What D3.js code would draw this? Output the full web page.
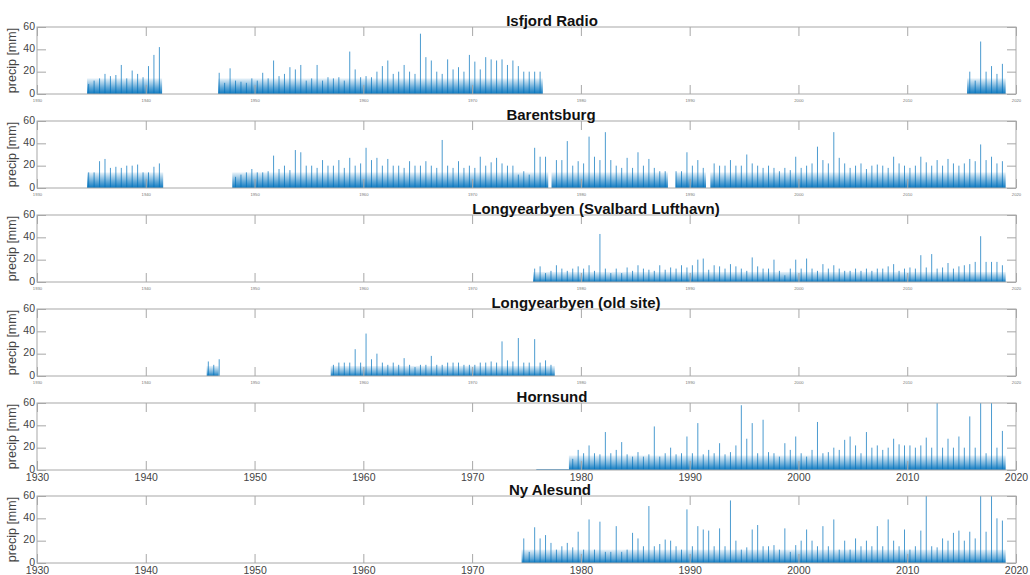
<!DOCTYPE html>
<html>
<head>
<meta charset="utf-8">
<script src="https://cdn.jsdelivr.net/npm/d3@7"></script>
<style>
  body { margin: 0; background: #fff; }
  svg { display: block; font-family: Arial, "Liberation Sans", sans-serif; }
</style>
</head>
<body>
<svg id="chart" width="1030" height="575"></svg>
<script>

const xTicks = [1930, 1940, 1950, 1960, 1970, 1980, 1990, 2000, 2010, 2020]
const yTicks = [0, 20, 40, 60]

const stations = ['Isfjord Radio', 'Barentsburg', 'Longyearbyen (Svalbard Lufthavn)',
                  'Longyearbyen (old site)', 'Hornsund', 'Ny Alesund']

// periods with a record, [from, to] in decimal years
const isfjordSpans = [[1934.6, 1941.5], [1946.65, 1976.5], [2015.5, 2019.05]]
const barentsburgSpans = [[1934.6, 1941.6], [1947.95, 1977.0], [1977.3, 1988.0], [1988.7, 1991.5], [1991.9, 2019.05]]
const longyearbyenSpans = [[1975.6, 2019.05]]
const oldSiteSpans = [[1945.6, 1946.7], [1957.0, 1977.6]]
const hornsundSpans = [[1978.9, 2019.05]]
const nyAlesundSpans = [[1974.55, 2019.05]]

// Hornsund shows a flat zero line before the record starts
const hornsundZero = [[1975.9, 1978.9]]

// half-year maximum daily precipitation [mm], [first half-year, values]
const isfjordPeaks = [
  [1934.5, [9, 12, 14, 18, 16, 17, 26, 14, 21, 18, 15, 25, 35, 42]],
  [1946.5, [19, 10, 23, 12, 11, 10, 14, 12, 19, 14, 30, 16, 18, 24, 22, 26, 12, 14, 26, 12,
            15, 14, 15, 12, 38, 22, 15, 16, 15, 20, 25, 30, 18, 20, 26, 20, 18, 54, 33, 30,
            20, 18, 31, 22, 24, 20, 35, 29, 22, 33, 31, 30, 31, 26, 30, 25, 20, 20, 20, 20]],
  [2015.5, [20, 12, 47, 20, 25, 18, 27]]
]
const barentsburgPeaks = [
  [1934.5, [14, 14, 24, 26, 18, 19, 18, 20, 20, 21, 14, 14, 19, 22]],
  [1948, [10, 12, 14, 17, 14, 14, 15, 29, 17, 20, 16, 34, 32, 20, 20, 18, 25, 20, 20, 25,
          18, 27, 20, 22, 36, 25, 27, 20, 26, 20, 20, 18, 24, 20, 20, 24, 20, 18, 43, 20,
          18, 24, 18, 20, 18, 28, 20, 23, 27, 22, 20, 20, 12, 15, 12, 36, 28, 28]],
  [1977.5, [25, 25, 42, 20, 24, 22, 46, 28, 25, 50, 25, 20, 18, 27, 18, 32, 20, 26, 18, 15, 15]],
  [1988.5, [15, 15, 32, 20, 25, 18]],
  [1992, [22, 20, 20, 25, 20, 20, 30, 22, 20, 18, 20, 18, 15, 18, 16, 28, 18, 20, 22, 37,
          25, 22, 50, 27, 22, 18, 20, 22, 17, 20, 21, 20, 18, 28, 22, 20, 18, 20, 28, 23,
          20, 25, 20, 26, 22, 20, 22, 26, 24, 39, 25, 28, 22, 24]]
]
const longyearbyenPeaks = [
  [1975.5, [12, 14, 8, 10, 15, 12, 10, 12, 14, 12, 15, 10, 43, 12, 8, 12, 8, 13, 10, 15,
            12, 11, 10, 15, 11, 13, 12, 15, 13, 15, 20, 21, 11, 15, 14, 12, 16, 14, 12, 10,
            22, 14, 12, 12, 20, 10, 6, 12, 20, 12, 21, 12, 10, 16, 12, 15, 12, 10, 10, 12,
            10, 12, 10, 12, 12, 14, 16, 10, 12, 13, 12, 24, 13, 25, 12, 13, 17, 12, 14, 15,
            16, 18, 41, 18, 18, 18, 15]]
]
const oldSitePeaks = [
  [1945.5, [13, 10, 15]],
  [1957, [10, 12, 12, 12, 24, 12, 38, 15, 20, 12, 10, 12, 10, 16, 10, 8, 10, 10, 18, 10,
          10, 12, 12, 12, 10, 10, 10, 12, 12, 13, 12, 31, 14, 13, 34, 12, 12, 33, 12, 14, 10]]
]
const hornsundPeaks = [
  [1979, [10, 18, 15, 22, 15, 14, 34, 15, 18, 25, 14, 12, 16, 12, 14, 39, 12, 15, 20, 14,
          15, 30, 15, 42, 14, 18, 15, 24, 14, 16, 22, 58, 28, 42, 15, 45, 16, 15, 12, 24,
          18, 30, 15, 12, 18, 43, 15, 16, 20, 18, 27, 30, 22, 15, 34, 20, 22, 18, 20, 28,
          23, 22, 22, 20, 22, 29, 20, 60, 20, 28, 20, 30, 20, 48, 20, 60, 15, 60, 20, 35]]
]
const nyAlesundPeaks = [
  [1974.5, [22, 10, 32, 22, 25, 18, 12, 15, 18, 14, 28, 12, 39, 12, 37, 10, 10, 33, 10, 12,
            27, 22, 15, 51, 15, 17, 21, 20, 15, 12, 48, 15, 33, 30, 29, 15, 31, 15, 56, 20,
            12, 14, 30, 34, 15, 15, 16, 12, 31, 10, 16, 20, 30, 20, 15, 33, 15, 39, 12, 20,
            12, 22, 15, 20, 15, 33, 15, 39, 20, 15, 30, 12, 15, 29, 60, 15, 14, 22, 20, 27,
            29, 20, 28, 22, 60, 28, 60, 40, 38]]
]

// typical level of the dense daily record (dark core / faded band top), mm
const coreLevel = [6, 6, 3, 3, 5, 4]
const bandLevel = [14, 14, 9, 9, 13, 12]

const allSpans = [isfjordSpans, barentsburgSpans, longyearbyenSpans, oldSiteSpans, hornsundSpans, nyAlesundSpans]
const allPeaks = [isfjordPeaks, barentsburgPeaks, longyearbyenPeaks, oldSitePeaks, hornsundPeaks, nyAlesundPeaks]

// layout
const left = 37, right = 1016, panelH = 67
const panelTops = [27, 121, 215, 309, 403, 496]
const titleX = [552, 551, 596, 576, 552, 550]
const bigLabels = [false, false, false, false, true, true]

const blue = '#0072BD'
const axisGrey = '#a8a8a8'

const svg = d3.select('#chart')
const defs = svg.append('defs')

const x = d3.scaleLinear().domain([1930, 2020]).range([left, right])
const y = d3.scaleLinear().domain([0, 60]).range([panelH, 0])

stations.forEach((name, i) => {

    const g = svg.append('g').attr('transform', `translate(0,${panelTops[i]})`)

    // fade from dark core at the bottom to nothing at the band top
    const grad = defs.append('linearGradient')
        .attr('id', 'fade' + i)
        .attr('x1', 0).attr('x2', 0).attr('y1', 0).attr('y2', 1)
    grad.append('stop').attr('offset', 0).attr('stop-color', blue).attr('stop-opacity', 0.08)
    grad.append('stop').attr('offset', 1 - coreLevel[i] / bandLevel[i])
        .attr('stop-color', blue).attr('stop-opacity', 0.6)
    grad.append('stop').attr('offset', 1).attr('stop-color', blue).attr('stop-opacity', 0.95)

    g.selectAll('.band').data(allSpans[i]).enter()
        .append('rect')
        .attr('x', d => x(d[0]))
        .attr('width', d => x(d[1]) - x(d[0]))
        .attr('y', y(bandLevel[i]))
        .attr('height', y(0) - y(bandLevel[i]))
        .attr('fill', `url(#fade${i})`)

    // half-year peaks as vertical spikes
    const bars = []
    allPeaks[i].forEach(seg => seg[1].forEach((v, k) => bars.push({ t: seg[0] + k * 0.5 + 0.25, v: v })))

    g.selectAll('.spike').data(bars).enter()
        .append('line')
        .attr('x1', d => x(d.t))
        .attr('x2', d => x(d.t))
        .attr('y1', y(0))
        .attr('y2', d => y(d.v))
        .attr('stroke', blue)
        .attr('stroke-width', 1)
        .attr('opacity', 0.7)

    if (i === 4) {
        g.selectAll('.zero').data(hornsundZero).enter()
            .append('line')
            .attr('x1', d => x(d[0]))
            .attr('x2', d => x(d[1]))
            .attr('y1', y(0) - 0.5)
            .attr('y2', y(0) - 0.5)
            .attr('stroke', '#5aa4d8')
            .attr('stroke-width', 1)
    }

    // axes, ticks inside like matlab
    const big = bigLabels[i]
    const xb = g.append('g')
        .attr('transform', `translate(0,${panelH})`)
        .call(d3.axisBottom(x).tickValues(xTicks).tickFormat(d3.format('d'))
              .tickSize(-9).tickPadding(big ? 3.5 : 5))
    xb.selectAll('text')
        .attr('font-size', big ? 10.5 : 4.2)
        .attr('fill', big ? '#444' : '#777')

    g.append('g')
        .call(d3.axisTop(x).tickValues(xTicks).tickFormat('').tickSize(-9))

    const yl = g.append('g')
        .attr('transform', `translate(${left},0)`)
        .call(d3.axisLeft(y).tickValues(yTicks).tickSize(-9).tickPadding(2))
    yl.selectAll('text').attr('font-size', 10.5).attr('fill', '#444').attr('dy', '0.2em')

    g.append('g')
        .attr('transform', `translate(${right},0)`)
        .call(d3.axisRight(y).tickValues(yTicks).tickFormat('').tickSize(-9))

    g.selectAll('.domain').remove()
    g.selectAll('.tick line').attr('stroke', axisGrey)

    g.append('rect')
        .attr('x', left)
        .attr('y', 0)
        .attr('width', right - left)
        .attr('height', panelH)
        .attr('fill', 'none')
        .attr('stroke', axisGrey)

    g.append('text')
        .attr('transform', `translate(16,${panelH / 2}) rotate(-90)`)
        .attr('text-anchor', 'middle')
        .attr('font-size', 12.5)
        .attr('fill', '#444')
        .text('precip [mm]')

    g.append('text')
        .attr('x', titleX[i])
        .attr('y', -1.5)
        .attr('text-anchor', 'middle')
        .attr('font-size', 15)
        .attr('font-weight', 'bold')
        .attr('fill', '#111')
        .text(name)
})

</script>
</body>
</html>
